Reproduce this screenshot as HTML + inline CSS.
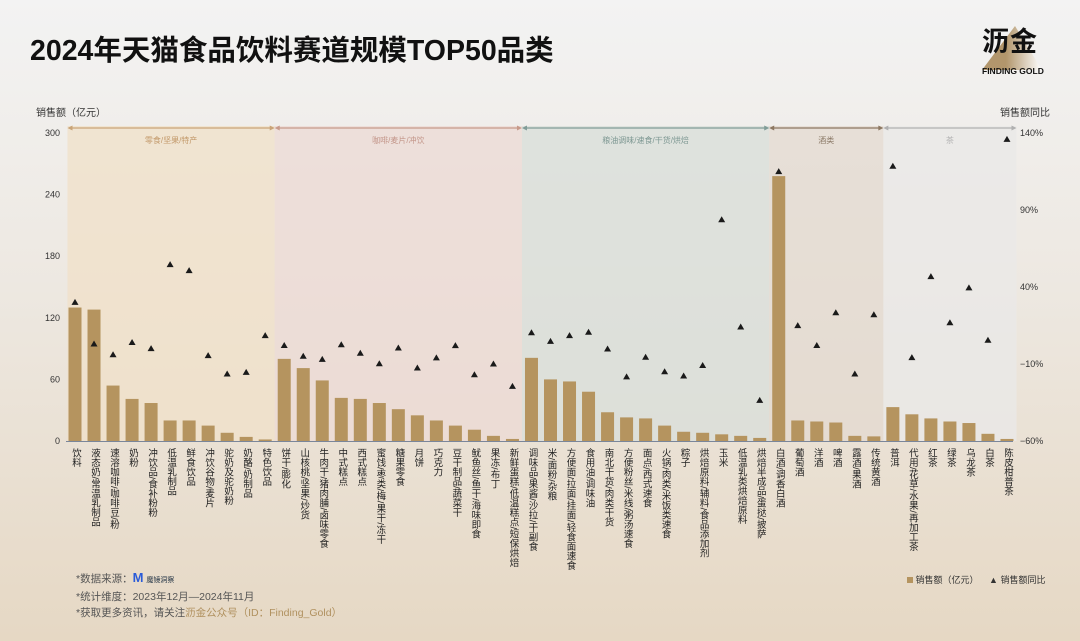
<!DOCTYPE html>
<html><head><meta charset="utf-8">
<style>
body{margin:0;width:1080px;height:641px;overflow:hidden;font-family:"Liberation Sans","Noto Sans CJK SC",sans-serif;background:linear-gradient(#f3f3f3 0%,#ede8e1 45%,#e6d8c4 100%);position:relative}
.t{position:absolute;white-space:nowrap}
</style></head><body>
<div class="t" style="left:30px;top:28px;font-size:28.5px;font-weight:bold;color:#111">2024年天猫食品饮料赛道规模TOP50品类</div>
<div style="position:absolute;left:980px;top:20px;width:64px;height:60px">
<svg width="64" height="48" style="position:absolute;left:0;top:4px"><defs><linearGradient id="lg" x1="0" x2="1"><stop offset="0.4" stop-color="#b2966c"/><stop offset="1" stop-color="#fff"/></linearGradient></defs><polygon points="2,46 35,2 62,46" fill="url(#lg)"/></svg>
<div class="t" style="left:2px;top:0;font-size:27px;font-weight:bold;color:#111;letter-spacing:1px">沥金</div>
<div class="t" style="left:2px;top:46px;font-size:8.5px;font-weight:bold;color:#111">FINDING GOLD</div>
</div>
<div class="t" style="left:36px;top:104px;font-size:10px;color:#333">销售额（亿元）</div>
<div class="t" style="left:1000px;top:104px;font-size:10px;color:#333">销售额同比</div>
<svg id="chart" width="1080" height="641" style="position:absolute;left:0;top:0"></svg>
<div style="position:absolute;left:76px;top:570px;font-size:10.5px;color:#555;line-height:16px">
<div>*数据来源：<span style="color:#2a5bd8;font-weight:bold;font-size:13px">M</span> <span style="font-size:7px;color:#234">魔镜洞察</span></div>
<div>*统计维度：2023年12月—2024年11月</div>
<div>*获取更多资讯，请关注<span style="color:#b0915f">沥金公众号（ID：Finding_Gold）</span></div>
</div>
<div class="t" style="left:907px;top:573px;font-size:9px;color:#333">
<span><span style="display:inline-block;width:6px;height:6px;background:#b5945f"></span> 销售额（亿元）</span>
<span style="margin-left:8px">▲ 销售额同比</span></div>
<script>
const categories=["饮料","液态奶/常温乳制品","速溶咖啡/咖啡豆/粉","奶粉","冲饮品/食补粉粉","低温乳制品","鲜食饮品","冲饮谷物/麦片","驼奶及驼奶粉","奶酪/奶制品","特色饮品","饼干/膨化","山核桃/坚果/炒货","牛肉干/猪肉脯/卤味零食","中式糕点","西式糕点","蜜饯/枣类/梅/果干/冻干","糖果零食","月饼","巧克力","豆干制品/蔬菜干","鱿鱼丝/鱼干/海味即食","果冻/布丁","新鲜蛋糕/低温糕点/短保烘焙","调味品/果酱/沙拉/干副食","米/面粉/杂粮","方便面/拉面/挂面/轻食面速食","食用油/调味油","南北干货/肉类干货","方便粉丝/米线/粥汤速食","面点/西式速食","火锅/肉类/米饭类速食","粽子","烘焙原料/辅料/食品添加剂","玉米","低温乳类烘焙原料","烘焙半成品/蛋挞/披萨","白酒/调香白酒","葡萄酒","洋酒","啤酒","露酒/果酒","传统黄酒","普洱","代用/花草/水果/再加工茶","红茶","绿茶","乌龙茶","白茶","陈皮柑普茶"];
const sales=[130,128,54,41,37,20,20,15,8,4,1.5,80,71,59,42,41,37,31,25,20,15,11,5,2,81,60,58,48,28,23,22,15,9,8,6.5,5,3,258,20,19,18,5,4.5,33,26,22,19,17.5,7,2];
const yoy=[30,3,-4,4,0,54.5,50.6,-4.6,-16.5,-15.4,8.4,2,-5,-7,2.5,-3,-9.8,0.4,-12.6,-6,1.9,-17,-10,-24.5,10.3,4.7,8.4,10.6,-0.3,-18.4,-5.6,-15,-17.8,-11,83.7,14,-33.6,114.9,14.9,2,23.3,-16.5,22,118.4,-5.9,46.7,16.8,39.4,5.4,135.9];
const leftTicks=[0,60,120,180,240,300];
const rightTicks=[-60,-10,40,90,140];
const groupNames=["零食/坚果/特产","咖啡/麦片/冲饮","粮油调味/速食/干货/烘焙","酒类","茶"];
const groupSizes=[11,13,13,6,7];
const NS="http://www.w3.org/2000/svg",svg=document.getElementById('chart');
const y0=441,yTop=133,x0=75,step=19.02;
const yL=v=>y0-(v/300)*(y0-yTop);
const yR=v=>y0-((v+60)/200)*(y0-yTop);
const xC=i=>x0+i*step;
function el(t,a,p){const e=document.createElementNS(NS,t);for(const k in a)e.setAttribute(k,a[k]);(p||svg).appendChild(e);return e;}
const gFill=["rgba(240,224,200,0.75)","rgba(236,218,212,0.75)","rgba(218,222,218,0.8)","rgba(226,216,206,0.7)","rgba(234,233,231,0.8)"];
const gLine=["#c9a478","#c79a8a","#809c97","#8d7862","#b0b0b0"];
const gText=["#c39a6c","#c3968a","#7e9893","#8a7866","#b3b3b3"];
let start=0;
groupSizes.forEach((n,g)=>{
 const xa=xC(start)-step/2+(g==0?2:0),xb=xC(start+n-1)+step/2;
 const r=el('rect',{x:xa,y:126,width:xb-xa,height:y0-126,fill:gFill[g]});
 
 
 const l=el('line',{x1:xa+2,y1:128,x2:xb-2,y2:128,stroke:gLine[g],'stroke-width':1.2});
 
 
 el('polygon',{points:`${xa},128 ${xa+5},125.5 ${xa+5},130.5`,fill:gLine[g]});
 el('polygon',{points:`${xb},128 ${xb-5},125.5 ${xb-5},130.5`,fill:gLine[g]});
 const t=el('text',{x:(xa+xb)/2,y:143,'text-anchor':'middle','font-size':8,fill:gText[g]});
 t.textContent=groupNames[g];
 
 
 start+=n;
});
leftTicks.forEach(v=>{const t=el('text',{x:60,y:yL(v)+3,'text-anchor':'end','font-size':9,fill:'#333'});t.textContent=v;
 
 });
rightTicks.forEach(v=>{const t=el('text',{x:1020,y:yR(v)+3,'font-size':9,fill:'#333'});t.textContent=(v<0?'−':'')+Math.abs(v)+'%';
 
 });
sales.forEach((v,i)=>{const b=el('rect',{x:xC(i)-6.5,y:yL(v),width:13,height:y0-yL(v),fill:'#b5945f'});
 
 });
el('line',{x1:66,y1:y0+0.5,x2:1013,y2:y0+0.5,stroke:'#7a869a','stroke-width':1});
yoy.forEach((v,i)=>{const y=yR(v),x=xC(i);const p=el('polygon',{points:`${x},${y-3.5} ${x-3.5},${y+2.5} ${x+3.5},${y+2.5}`,fill:'#1a1a1a'});
 
 });
categories.forEach((c,i)=>{const d=document.createElement('div');d.className='t';d.textContent=c;
 d.style.cssText=`left:${xC(i)-6}px;top:448px;writing-mode:vertical-rl;font-size:9.5px;color:#222;line-height:12px`;
 
 
 document.body.appendChild(d);});
</script>
</body></html>
